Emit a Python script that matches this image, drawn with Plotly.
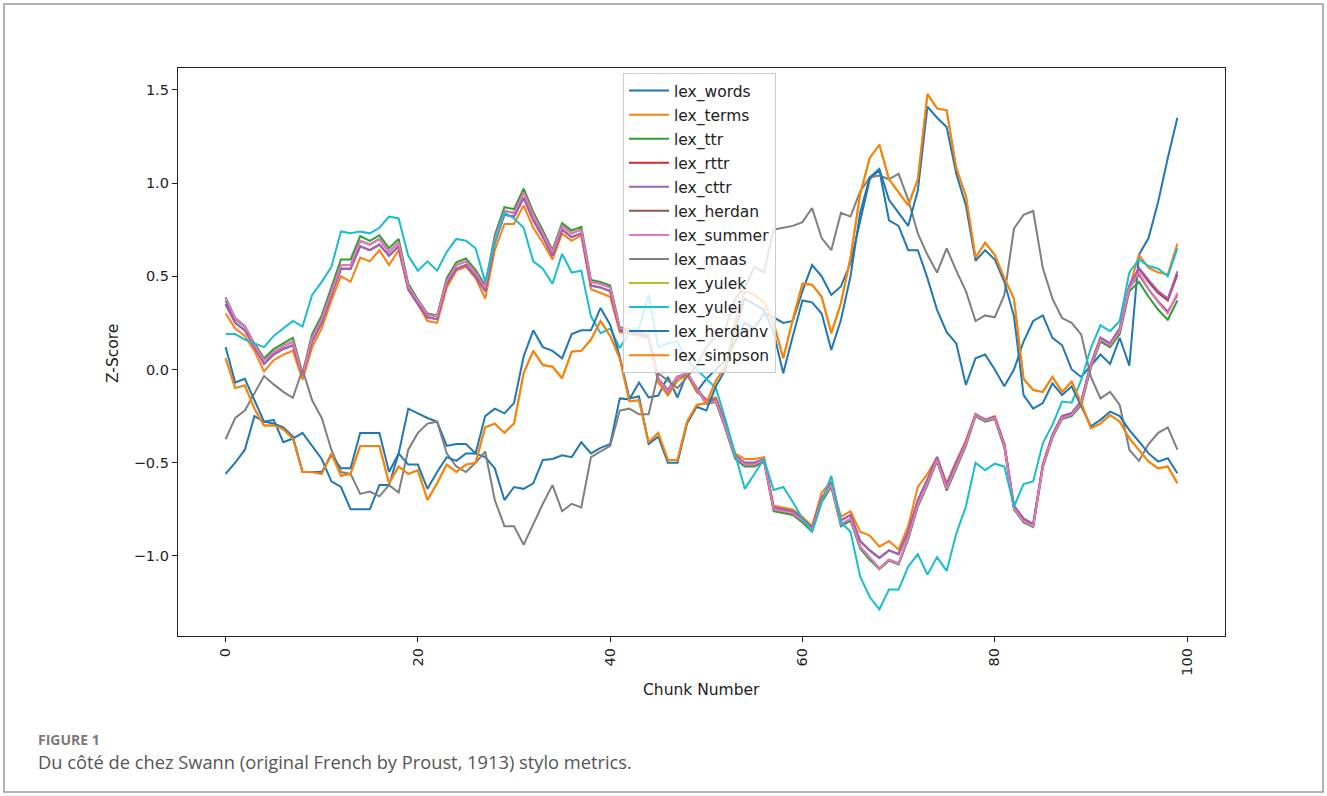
import plotly.graph_objects as go

# Chunk index along the novel
chunks = list(range(100))

lex_words = [-0.56, -0.50, -0.43, -0.25, -0.28, -0.27, -0.39, -0.37, -0.34, -0.41,
             -0.48, -0.60, -0.63, -0.75, -0.75, -0.75, -0.62, -0.62, -0.45, -0.21,
             -0.235, -0.26, -0.28, -0.41, -0.40, -0.40, -0.45, -0.47, -0.53, -0.70,
             -0.63, -0.64, -0.61, -0.485, -0.48, -0.46, -0.47, -0.39, -0.45, -0.42,
             -0.40, -0.155, -0.16, -0.07, -0.15, -0.14, -0.04, -0.15, -0.02, -0.12,
             -0.05, 0.0, 0.05, 0.15, 0.25, 0.22, 0.30, 0.28, 0.25, 0.26,
             0.42, 0.56, 0.50, 0.40, 0.445, 0.57, 0.80, 1.02, 1.07, 0.80,
             0.77, 0.64, 0.64, 0.49, 0.32, 0.20, 0.14, -0.083, 0.06, 0.08,
             0.0, -0.09, 0.0, 0.15, 0.26, 0.29, 0.17, 0.13, 0.0, -0.04,
             0.02, 0.08, 0.03, 0.17, 0.02, 0.615, 0.705, 0.90, 1.134, 1.35]

lex_terms = [0.30, 0.22, 0.18, 0.10, -0.01, 0.05, 0.08, 0.10, -0.055, 0.12,
             0.22, 0.37, 0.50, 0.47, 0.60, 0.58, 0.64, 0.56, 0.64, 0.43,
             0.35, 0.26, 0.25, 0.44, 0.53, 0.55, 0.49, 0.38, 0.64, 0.78,
             0.78, 0.88, 0.76, 0.68, 0.59, 0.73, 0.69, 0.72, 0.43, 0.41,
             0.39, 0.20, 0.19, 0.18, 0.17, -0.07, -0.14, -0.06, -0.03, -0.12,
             -0.16, -0.15, -0.29, -0.45, -0.48, -0.48, -0.47, -0.73, -0.74, -0.75,
             -0.79, -0.84, -0.66, -0.60, -0.79, -0.76, -0.87, -0.89, -0.95, -0.92,
             -0.965, -0.84, -0.63, -0.56, -0.47, -0.61, -0.49, -0.38, -0.24, -0.27,
             -0.25, -0.40, -0.74, -0.80, -0.83, -0.51, -0.35, -0.25, -0.235, -0.17,
             0.02, 0.16, 0.14, 0.21, 0.44, 0.615, 0.545, 0.52, 0.51, 0.675]

lex_ttr = [0.37, 0.27, 0.23, 0.14, 0.06, 0.11, 0.14, 0.17, -0.02, 0.19,
           0.29, 0.44, 0.59, 0.59, 0.715, 0.69, 0.72, 0.65, 0.70, 0.46,
           0.375, 0.30, 0.29, 0.49, 0.575, 0.595, 0.535, 0.45, 0.72, 0.87,
           0.86, 0.97, 0.845, 0.745, 0.64, 0.785, 0.745, 0.765, 0.48, 0.47,
           0.45, 0.225, 0.215, 0.205, 0.185, -0.05, -0.125, -0.045, -0.025, -0.105,
           -0.185, -0.175, -0.32, -0.48, -0.52, -0.52, -0.495, -0.76, -0.77, -0.78,
           -0.82, -0.87, -0.71, -0.63, -0.84, -0.81, -0.96, -1.02, -1.07, -1.025,
           -1.045, -0.91, -0.735, -0.62, -0.49, -0.65, -0.53, -0.41, -0.25, -0.28,
           -0.265, -0.42, -0.75, -0.82, -0.845, -0.525, -0.365, -0.265, -0.25, -0.19,
           0.01, 0.15, 0.12, 0.19, 0.42, 0.47, 0.39, 0.32, 0.267, 0.37]

lex_rttr = [0.35, 0.25, 0.21, 0.12, 0.03, 0.08, 0.11, 0.13, -0.03, 0.15,
            0.25, 0.40, 0.54, 0.54, 0.66, 0.64, 0.67, 0.61, 0.66, 0.43,
            0.35, 0.28, 0.27, 0.46, 0.54, 0.56, 0.50, 0.42, 0.68, 0.83,
            0.82, 0.92, 0.80, 0.71, 0.61, 0.75, 0.71, 0.73, 0.45, 0.44,
            0.42, 0.21, 0.20, 0.19, 0.17, -0.05, -0.11, -0.04, -0.02, -0.10,
            -0.17, -0.16, -0.30, -0.46, -0.50, -0.50, -0.48, -0.74, -0.75, -0.76,
            -0.80, -0.85, -0.69, -0.61, -0.81, -0.78, -0.92, -0.97, -1.01, -0.97,
            -0.99, -0.87, -0.70, -0.59, -0.47, -0.62, -0.50, -0.39, -0.24, -0.27,
            -0.255, -0.40, -0.73, -0.80, -0.83, -0.51, -0.35, -0.25, -0.235, -0.17,
            0.03, 0.17, 0.14, 0.22, 0.45, 0.54, 0.47, 0.41, 0.37, 0.51]

lex_cttr = [0.35, 0.25, 0.21, 0.12, 0.03, 0.08, 0.11, 0.13, -0.03, 0.15,
            0.25, 0.40, 0.54, 0.54, 0.66, 0.64, 0.67, 0.61, 0.66, 0.43,
            0.35, 0.28, 0.27, 0.46, 0.54, 0.56, 0.50, 0.42, 0.68, 0.83,
            0.82, 0.92, 0.80, 0.71, 0.61, 0.75, 0.71, 0.73, 0.45, 0.44,
            0.42, 0.21, 0.20, 0.19, 0.17, -0.05, -0.11, -0.04, -0.02, -0.10,
            -0.17, -0.16, -0.30, -0.46, -0.50, -0.50, -0.48, -0.74, -0.75, -0.76,
            -0.80, -0.85, -0.69, -0.61, -0.81, -0.78, -0.92, -0.97, -1.01, -0.97,
            -0.99, -0.87, -0.70, -0.59, -0.47, -0.62, -0.50, -0.39, -0.24, -0.27,
            -0.255, -0.40, -0.73, -0.80, -0.83, -0.51, -0.35, -0.25, -0.235, -0.17,
            0.03, 0.17, 0.14, 0.22, 0.45, 0.545, 0.48, 0.42, 0.38, 0.527]

lex_herdan = [0.387, 0.276, 0.232, 0.133, 0.05, 0.095, 0.125, 0.15, -0.03, 0.17,
              0.27, 0.42, 0.56, 0.56, 0.69, 0.67, 0.70, 0.63, 0.68, 0.445,
              0.366, 0.294, 0.285, 0.474, 0.56, 0.58, 0.52, 0.44, 0.70, 0.85,
              0.84, 0.95, 0.83, 0.73, 0.63, 0.77, 0.73, 0.75, 0.47, 0.46,
              0.44, 0.22, 0.21, 0.20, 0.18, -0.05, -0.12, -0.04, -0.02, -0.10,
              -0.18, -0.17, -0.31, -0.47, -0.51, -0.51, -0.485, -0.75, -0.76, -0.77,
              -0.81, -0.86, -0.70, -0.62, -0.83, -0.80, -0.95, -1.01, -1.066, -1.02,
              -1.04, -0.90, -0.727, -0.61, -0.485, -0.64, -0.52, -0.40, -0.244, -0.275,
              -0.26, -0.41, -0.745, -0.815, -0.84, -0.52, -0.36, -0.26, -0.244, -0.18,
              0.02, 0.16, 0.13, 0.205, 0.437, 0.51, 0.43, 0.365, 0.31, 0.40]

lex_summer = [0.387, 0.276, 0.232, 0.133, 0.05, 0.095, 0.125, 0.15, -0.03, 0.17,
              0.27, 0.42, 0.56, 0.56, 0.69, 0.67, 0.70, 0.63, 0.68, 0.445,
              0.366, 0.294, 0.285, 0.474, 0.56, 0.58, 0.52, 0.44, 0.70, 0.85,
              0.84, 0.95, 0.83, 0.73, 0.63, 0.77, 0.73, 0.75, 0.47, 0.46,
              0.44, 0.22, 0.21, 0.20, 0.18, -0.05, -0.12, -0.04, -0.02, -0.10,
              -0.18, -0.17, -0.31, -0.47, -0.51, -0.51, -0.485, -0.75, -0.76, -0.77,
              -0.81, -0.86, -0.70, -0.62, -0.83, -0.80, -0.95, -1.01, -1.066, -1.02,
              -1.04, -0.90, -0.727, -0.61, -0.485, -0.64, -0.52, -0.40, -0.244, -0.275,
              -0.26, -0.41, -0.745, -0.815, -0.84, -0.52, -0.36, -0.26, -0.244, -0.18,
              0.02, 0.16, 0.13, 0.205, 0.437, 0.52, 0.43, 0.36, 0.30, 0.41]

lex_maas = [-0.374, -0.26, -0.22, -0.13, -0.035, -0.08, -0.12, -0.152, 0.0, -0.165,
            -0.26, -0.43, -0.55, -0.56, -0.667, -0.655, -0.68, -0.62, -0.66, -0.43,
            -0.34, -0.29, -0.28, -0.45, -0.52, -0.55, -0.50, -0.44, -0.70, -0.84,
            -0.84, -0.94, -0.83, -0.72, -0.62, -0.76, -0.72, -0.74, -0.47, -0.44,
            -0.41, -0.22, -0.21, -0.24, -0.24, -0.02, -0.06, -0.10, -0.04, 0.02,
            0.12, 0.18, 0.22, 0.38, 0.44, 0.55, 0.52, 0.75, 0.76, 0.77,
            0.79, 0.866, 0.705, 0.64, 0.84, 0.82, 0.955, 1.03, 1.04, 1.02,
            1.05, 0.91, 0.73, 0.615, 0.52, 0.65, 0.53, 0.42, 0.26, 0.29,
            0.28, 0.40, 0.755, 0.83, 0.85, 0.544, 0.38, 0.276, 0.25, 0.187,
            -0.04, -0.155, -0.12, -0.19, -0.43, -0.49, -0.40, -0.34, -0.31, -0.43]

lex_yulek = [0.06, -0.10, -0.085, -0.21, -0.30, -0.30, -0.32, -0.37, -0.55, -0.55,
             -0.56, -0.45, -0.57, -0.56, -0.41, -0.41, -0.41, -0.61, -0.52, -0.56,
             -0.54, -0.70, -0.61, -0.51, -0.55, -0.51, -0.50, -0.31, -0.29, -0.34,
             -0.29, -0.02, 0.10, 0.024, 0.015, -0.047, 0.096, 0.10, 0.16, 0.26,
             0.18, 0.06, -0.17, -0.165, -0.39, -0.34, -0.485, -0.485, -0.28, -0.19,
             -0.18, -0.06, 0.02, 0.25, 0.42, 0.40, 0.36, 0.25, 0.06, 0.27,
             0.46, 0.455, 0.39, 0.195, 0.355, 0.60, 0.94, 1.134, 1.205, 1.02,
             0.95, 0.88, 1.02, 1.477, 1.40, 1.39, 1.08, 0.93, 0.60, 0.68,
             0.615, 0.49, 0.38, -0.05, -0.11, -0.12, -0.04, -0.12, -0.065, -0.18,
             -0.315, -0.29, -0.244, -0.28, -0.37, -0.432, -0.494, -0.53, -0.52, -0.61]

lex_yulei = [0.19, 0.19, 0.16, 0.14, 0.12, 0.18, 0.22, 0.26, 0.23, 0.40,
             0.47, 0.55, 0.74, 0.73, 0.74, 0.73, 0.76, 0.82, 0.81, 0.61,
             0.53, 0.58, 0.53, 0.63, 0.70, 0.69, 0.65, 0.47, 0.68, 0.84,
             0.81, 0.76, 0.58, 0.54, 0.46, 0.62, 0.52, 0.53, 0.285, 0.195,
             0.22, 0.115, 0.20, 0.22, 0.40, 0.12, 0.14, 0.15, 0.05, 0.0,
             -0.05, -0.10, -0.27, -0.45, -0.64, -0.56, -0.48, -0.646, -0.63, -0.71,
             -0.80, -0.87, -0.71, -0.57, -0.82, -0.87, -1.11, -1.22, -1.286, -1.18,
             -1.18, -1.057, -0.99, -1.10, -1.006, -1.08, -0.88, -0.735, -0.50, -0.54,
             -0.505, -0.52, -0.735, -0.614, -0.60, -0.396, -0.297, -0.172, -0.178, -0.056,
             0.115, 0.237, 0.205, 0.26, 0.52, 0.59, 0.555, 0.54, 0.50, 0.65]

lex_herdanv = [0.12, -0.07, -0.05, -0.17, -0.28, -0.29, -0.31, -0.36, -0.55, -0.55,
               -0.55, -0.46, -0.53, -0.53, -0.34, -0.34, -0.34, -0.55, -0.45, -0.51,
               -0.51, -0.64, -0.55, -0.47, -0.49, -0.45, -0.45, -0.25, -0.21, -0.235,
               -0.18, 0.07, 0.21, 0.12, 0.10, 0.06, 0.19, 0.21, 0.21, 0.33,
               0.24, 0.07, -0.155, -0.145, -0.40, -0.36, -0.50, -0.50, -0.29, -0.20,
               -0.22, -0.09, 0.0, 0.22, 0.38, 0.35, 0.32, 0.20, -0.02, 0.18,
               0.37, 0.36, 0.30, 0.105, 0.265, 0.50, 0.84, 1.03, 1.075, 0.91,
               0.84, 0.77, 0.96, 1.41, 1.35, 1.30, 1.05, 0.88, 0.583, 0.64,
               0.59, 0.47, 0.285, -0.137, -0.21, -0.18, -0.074, -0.137, -0.09, -0.20,
               -0.305, -0.27, -0.226, -0.25, -0.325, -0.386, -0.45, -0.494, -0.476, -0.556]

lex_simpson = [0.06, -0.10, -0.085, -0.21, -0.30, -0.30, -0.32, -0.37, -0.55, -0.55,
               -0.56, -0.45, -0.57, -0.56, -0.41, -0.41, -0.41, -0.61, -0.52, -0.56,
               -0.54, -0.70, -0.61, -0.51, -0.55, -0.51, -0.50, -0.31, -0.29, -0.34,
               -0.29, -0.02, 0.10, 0.024, 0.015, -0.047, 0.096, 0.10, 0.16, 0.26,
               0.18, 0.06, -0.17, -0.165, -0.39, -0.34, -0.485, -0.485, -0.28, -0.19,
               -0.18, -0.06, 0.02, 0.25, 0.42, 0.40, 0.36, 0.25, 0.06, 0.27,
               0.46, 0.455, 0.39, 0.195, 0.355, 0.60, 0.94, 1.134, 1.205, 1.02,
               0.95, 0.88, 1.02, 1.477, 1.40, 1.39, 1.08, 0.93, 0.60, 0.68,
               0.615, 0.49, 0.38, -0.05, -0.11, -0.12, -0.04, -0.12, -0.065, -0.18,
               -0.315, -0.29, -0.244, -0.28, -0.37, -0.432, -0.494, -0.53, -0.52, -0.61]

metric_names = ["lex_words", "lex_terms", "lex_ttr", "lex_rttr", "lex_cttr", "lex_herdan",
                "lex_summer", "lex_maas", "lex_yulek", "lex_yulei", "lex_herdanv", "lex_simpson"]
metric_values = [lex_words, lex_terms, lex_ttr, lex_rttr, lex_cttr, lex_herdan,
                 lex_summer, lex_maas, lex_yulek, lex_yulei, lex_herdanv, lex_simpson]
palette = ["#1f77b4", "#ff7f0e", "#2ca02c", "#d62728", "#9467bd", "#8c564b",
           "#e377c2", "#7f7f7f", "#bcbd22", "#17becf", "#1f77b4", "#ff7f0e"]

y_ticks = [-1.0, -0.5, 0.0, 0.5, 1.0, 1.5]
x_ticks = [0, 20, 40, 60, 80, 100]

W, H = 1327, 796
plot_left, plot_right, plot_top, plot_bottom = 178, 1225, 68, 636

fig = go.Figure()
for name, vals, col in zip(metric_names, metric_values, palette):
    fig.add_trace(go.Scatter(
        x=chunks, y=vals, mode="lines", name=name, legendgroup=name,
        line=dict(color=col, width=2), hoverinfo="skip"))

axis_font = dict(family="DejaVu Sans", size=14.5, color="#222")

fig.update_layout(
    width=W, height=H,
    margin=dict(l=0, r=0, t=0, b=0),
    paper_bgcolor="white", plot_bgcolor="white",
    showlegend=True,
    legend=dict(
        x=623 / W, y=1 - 73 / H, xanchor="left", yanchor="top",
        bgcolor="rgba(255,255,255,0.8)", bordercolor="#cccccc", borderwidth=1,
        font=dict(family="DejaVu Sans", size=15.5, color="#222"),
        tracegroupgap=0.9, itemwidth=40,
    ),
    xaxis=dict(
        domain=[plot_left / W, plot_right / W],
        range=[-4.95, 103.95],
        tickvals=x_ticks, ticktext=[str(v) for v in x_ticks], tickangle=-90,
        ticks="outside", ticklen=5, tickwidth=1.3, tickcolor="#222",
        showline=True, linecolor="#222", linewidth=1.3, mirror=True,
        showgrid=False, zeroline=False, tickfont=axis_font,
    ),
    yaxis=dict(
        domain=[1 - plot_bottom / H, 1 - plot_top / H],
        range=[-1.429, 1.6166],
        tickvals=y_ticks, ticktext=["\u22121.0", "\u22120.5", "0.0", "0.5", "1.0", "1.5"],
        ticks="outside", ticklen=5, tickwidth=1.3, tickcolor="#222",
        showline=True, linecolor="#222", linewidth=1.3, mirror=True,
        showgrid=False, zeroline=False, tickfont=axis_font,
    ),
    annotations=[
        dict(text="Chunk Number", x=(plot_left + plot_right) / 2 / W, y=1 - 690 / H,
             xref="paper", yref="paper", showarrow=False, xanchor="center", yanchor="middle",
             font=dict(family="DejaVu Sans", size=15.5, color="#222")),
        dict(text="Z-Score", x=113 / W, y=1 - 354 / H, textangle=-90,
             xref="paper", yref="paper", showarrow=False, xanchor="center", yanchor="middle",
             font=dict(family="DejaVu Sans", size=15.5, color="#222")),
        dict(text="<b>FIGURE 1</b>", x=36 / W, y=1 - 739 / H,
             xref="paper", yref="paper", showarrow=False, xanchor="left", yanchor="middle",
             font=dict(family="Open Sans", size=14, color="#7a7a7a")),
        dict(text="Du côté de chez Swann (original French by Proust, 1913) stylo metrics.",
             x=36 / W, y=1 - 761 / H,
             xref="paper", yref="paper", showarrow=False, xanchor="left", yanchor="middle",
             font=dict(family="Open Sans", size=18.3, color="#555555")),
    ],
    shapes=[
        dict(type="rect", xref="paper", yref="paper",
             x0=4 / W, x1=1 - 4 / W, y0=4 / H, y1=1 - 4 / H,
             line=dict(color="#9a9a9a", width=1.5), fillcolor="rgba(0,0,0,0)", layer="below"),
    ],
)

fig.write_html("out.html", config={"displayModeBar": False})
